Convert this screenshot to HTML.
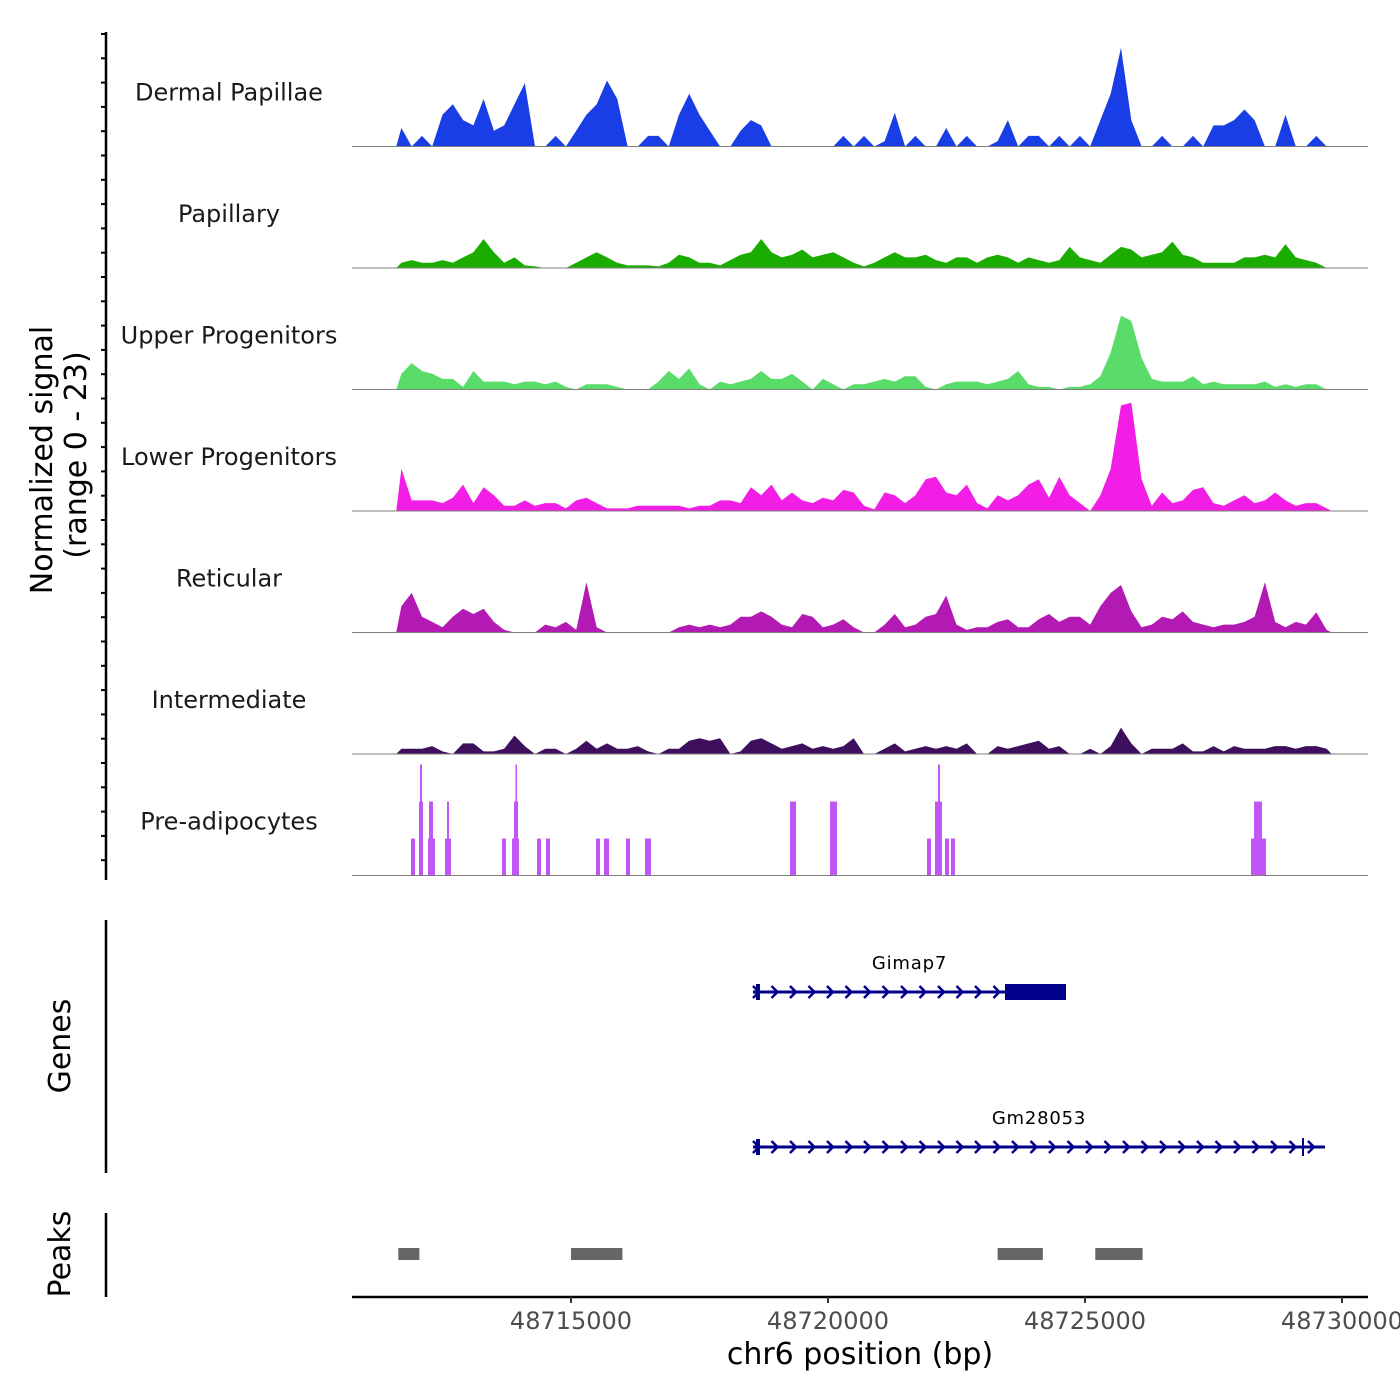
<!DOCTYPE html>
<html><head><meta charset="utf-8"><style>
html,body{margin:0;padding:0;background:#fff;}
svg{display:block;font-family:"DejaVu Sans","Liberation Sans",sans-serif;}
</style></head><body>
<svg id="chart" width="1400" height="1400" viewBox="0 0 1400 1400"></svg>
<script>
// ---- data ----
const trackNames = ["Dermal Papillae","Papillary","Upper Progenitors","Lower Progenitors","Reticular","Intermediate","Pre-adipocytes"];
const trackColors = ["#1a3ee6","#1aad00","#5adc6a","#f21ee6","#b31ab3","#3d0f5c","#c056f5"];
const binStart = 48711600;
const binSize = 200;
const dermal = [3.5,0,2,0,6,8,5,4,9,3,4,8,12,0,0,2,0,3,6,8,12.5,9,0,0,2,2,0,6,10,6,3,0,0,3,5,4,0,0,0,0,0,0,0,2,0,2,0,1,6.4,0,2,0,0,3.5,0,2,0,0,1,5,0,2,2,0,2,0,2,0,5,10,18.7,5,0,0,2,0,0,2,0,4,4,5,7,5,0,0,6,0,0,2,0];
const papillary = [1,1.5,1,1,1.5,1,2,3,5.5,3,1,2,0.5,0.3,0,0,0,1,2,3,2,1,0.5,0.5,0.5,0.3,1,2.5,2,1,1,0.5,1.5,2.5,3,5.5,3,2,2.5,3.5,2,2.5,3,2,1,0.3,1,2,3,2,2,2.5,1.5,1,2,2,1,2,2.5,2,1,2,1.5,1,1.5,4,2,1.5,1,2.5,4,3.5,2,2.5,3,5,2.5,2,1,1,1,1,2,2,2.5,2,4.5,2,1.5,1,0];
const upper = [3,5,3.5,3,2,2,0.5,3.5,1.5,1.5,1.5,1,1.5,1.5,1,1.5,0.5,0,1,1,1,0.5,0,0,0,1.5,3.5,2,4,1,0,1.5,1,1.5,2,3.5,2,2,3,1.5,0,2,1,0,1,1,1.5,2,1.5,2.5,2.5,0.5,0,1,1.5,1.5,1.5,1,1.5,2,3.5,1,0.5,0.5,0,0.5,0.5,1,2.5,7,14,13,6,2,1.5,1.5,1.5,2.5,1,1.5,1,1,1,1,1.5,0.5,1,0.5,1,1,0];
const lower = [8,2,2,2,1.5,2.5,5,1.5,4.5,3,1,1,2,1,1.5,1.5,0.5,2,2.5,1.5,0.5,0.5,0.5,1,1,1,1,1,0.5,1,1,2,2,1.5,4.5,3,5,2,3.5,2,1.5,2.5,2,4,3.5,1,0.3,3.5,3,1.5,3,6,6.5,3.5,3,5,1.5,0.5,3,2,3,5,6,2.5,6.5,3,1.5,0,3,8,20,20.5,6,1,3.5,1.5,2,4,4.5,1.5,1,2,3,1.5,2,3.5,2,1,1.5,1.5,0.5];
const reticular = [5,7.5,3,2,1,3,4.5,3.5,4.5,2,0.5,0,0,0,1.5,1,2,0.5,9.5,1,0,0,0,0,0,0,0,1,1.5,1,1.5,1,1.5,3,3,4,3,1.5,1,3.5,3,1,1.5,2.5,1,0,0,1.5,3.5,1,1.5,3,3.5,7,1.5,0.5,1,1,2,2.5,1,1,2.5,3.5,2,3,3,1.5,5,7.5,9,4,1,1.5,3,2.5,4,2,1.5,1,1.5,1.5,2,3,9.5,2,1,2,1.5,3.8,0.5];
const intermediate = [1,1,1,1.5,0.5,0,2,2,0.5,0.5,1,3.5,1.5,0,1,1,0,1,2.5,1,2,1,1,1.5,0.5,0,1,1,2.5,3,2.5,3,0,0.5,2.5,3,2,1,1.5,2,1,1.5,1,1.5,3,0,0,1,2,0.5,1,1.5,1,1.5,1,2,0,0,1.5,1,1.5,2,2.5,1,1.5,0,0,1,0,1.5,5,2,0,1,1,1,2,0.5,0.5,1.5,0.5,1.5,1,1,1,1.5,1.5,1,1.5,1.5,1];
const preStart = [48711887,48712042,48712218,48712548,48713657,48713852,48714338,48714513,48715486,48715642,48716070,48716439,48719260,48720039,48721926,48722081,48722276,48722393,48728229,48712062,48712237,48712587,48713891,48713920,48722140,48728288];
const preEnd   = [48711965,48712120,48712354,48712665,48713735,48713988,48714416,48714591,48715564,48715739,48716148,48716556,48719377,48720175,48722004,48722217,48722354,48722470,48728521,48712100,48712315,48712626,48713969,48713950,48722179,48728443];
const preLevel = [7,14,7,7,7,7,7,7,7,7,7,7,14,14,7,14,7,7,7,21,14,14,14,21,21,14];
const geneNames = ["Gimap7","Gm28053"];
const geneStart = [48718540,48718540];
const geneEnd = [48724630,48729669];
const exonStart = [48723443,48718600];
const exonEnd = [48724630,48718640];
const peakStart = [48711640,48715000,48723300,48725200];
const peakEnd = [48712050,48716000,48724180,48726120];
const xTicks = [48715000,48720000,48725000,48730000];

// ---- scales ----
const X0=352, X1=1368, bp0=48710739, pxPerBp=0.0514;
const xs = bp => X0 + (bp-bp0)*pxPerBp;
const trackH = 121.5, firstBase = 146.5, unitPx = 5.28;
const baseY = i => firstBase + i*trackH;
const ys = (i,v) => baseY(i) - v*unitPx;

const svg = document.getElementById('chart');
const NS='http://www.w3.org/2000/svg';
function mk(tag, attrs, parent){const e=document.createElementNS(NS,tag);for(const k in attrs)e.setAttribute(k,attrs[k]);(parent||svg).appendChild(e);return e;}

const ax = mk('line',{x1:106,y1:32,x2:106,y2:880,stroke:'#000','stroke-width':2.5});


for(let y=34;y<=878;y+=24.3){
  const t=mk('line',{x1:101,y1:y,x2:106,y2:y,stroke:'#000','stroke-width':2});
  
  
}
const yt1=mk('text',{x:0,y:0,'font-size':30,'text-anchor':'middle',transform:'translate(52,460) rotate(-90)'});
yt1.textContent='Normalized signal';


const yt2=mk('text',{x:0,y:0,'font-size':30,'text-anchor':'middle',transform:'translate(86,455) rotate(-90)'});
yt2.textContent='(range 0 - 23)';



const series=[dermal,papillary,upper,lower,reticular,intermediate];
series.forEach((vals,i)=>{
  let d=`M${xs(binStart)},${baseY(i)}`;
  vals.forEach((v,j)=>{ d+=` L${xs(binStart+binSize*(j+0.5)).toFixed(1)},${ys(i,v).toFixed(1)}`; });
  d+=` L${xs(binStart+binSize*vals.length)},${baseY(i)} Z`;
  const p=mk('path',{d:d,fill:trackColors[i]});
  
  
});
preStart.forEach((s,k)=>{
  const r=mk('rect',{x:xs(s),y:ys(6,preLevel[k]),width:Math.max(1.5,xs(preEnd[k])-xs(s)),height:preLevel[k]*unitPx,fill:trackColors[6]});
  
  
});
trackNames.forEach((n,i)=>{
  const b=mk('line',{x1:X0,y1:baseY(i),x2:X1,y2:baseY(i),stroke:'#7f7f7f','stroke-width':1});
  
  
  const t=mk('text',{x:229,y:baseY(i)-46,'font-size':24,'text-anchor':'middle',fill:'#1a1a1a'});
  t.textContent=n;
  
  
});

const gl=mk('line',{x1:106,y1:920,x2:106,y2:1173,stroke:'#000','stroke-width':2.5});


const gt=mk('text',{x:0,y:0,'font-size':30,'text-anchor':'middle',transform:'translate(70,1046) rotate(-90)'});
gt.textContent='Genes';


const geneY=[992,1147];
geneNames.forEach((g,k)=>{
  const y=geneY[k], a=xs(geneStart[k]), b=xs(geneEnd[k]);
  const grp=mk('g',{});
  
  
  mk('line',{x1:a,y1:y,x2:b,y2:y,stroke:'#00008b','stroke-width':3},grp);
  let d='';
  for(let x=a+4;x<b-4;x+=18.5){ d+=`M${x-4},${y-6} L${x+2},${y} L${x-4},${y+6} `; }
  mk('path',{d:d,stroke:'#00008b','stroke-width':2.5,fill:'none'},grp);
  mk('rect',{x:xs(exonStart[k]),y:y-8,width:xs(exonEnd[k])-xs(exonStart[k]),height:16,fill:'#00008b'},grp);
  mk('rect',{x:a+3,y:y-8,width:4,height:16,fill:'#00008b'},grp);
  if(k===1){ mk('line',{x1:1303,y1:y-9,x2:1303,y2:y+9,stroke:'#00008b','stroke-width':2},grp); }
  const t=mk('text',{x:(a+b)/2,y:y-23,'font-size':18,'text-anchor':'middle',fill:'#000','letter-spacing':'0.8'},grp);
  t.textContent=g;
});

const pl=mk('line',{x1:106,y1:1213,x2:106,y2:1297,stroke:'#000','stroke-width':2.5});


const pt=mk('text',{x:0,y:0,'font-size':30,'text-anchor':'middle',transform:'translate(70,1254) rotate(-90)'});
pt.textContent='Peaks';


peakStart.forEach((s,k)=>{
  const r=mk('rect',{x:xs(s),y:1248,width:xs(peakEnd[k])-xs(s),height:12,fill:'#666'});
  
  
});

const xa=mk('line',{x1:X0,y1:1297,x2:X1,y2:1297,stroke:'#000','stroke-width':2.5});


xTicks.forEach(t=>{
  const tk=mk('line',{x1:xs(t),y1:1297,x2:xs(t),y2:1303,stroke:'#333','stroke-width':2});
  
  
  const lb=mk('text',{x:xs(t),y:1329,'font-size':24,'text-anchor':'middle',fill:'#4d4d4d'});
  lb.textContent=String(t);
  
  
});
const xt=mk('text',{x:860,y:1364,'font-size':30,'text-anchor':'middle',fill:'#000'});
xt.textContent='chr6 position (bp)';


</script>
</body></html>
